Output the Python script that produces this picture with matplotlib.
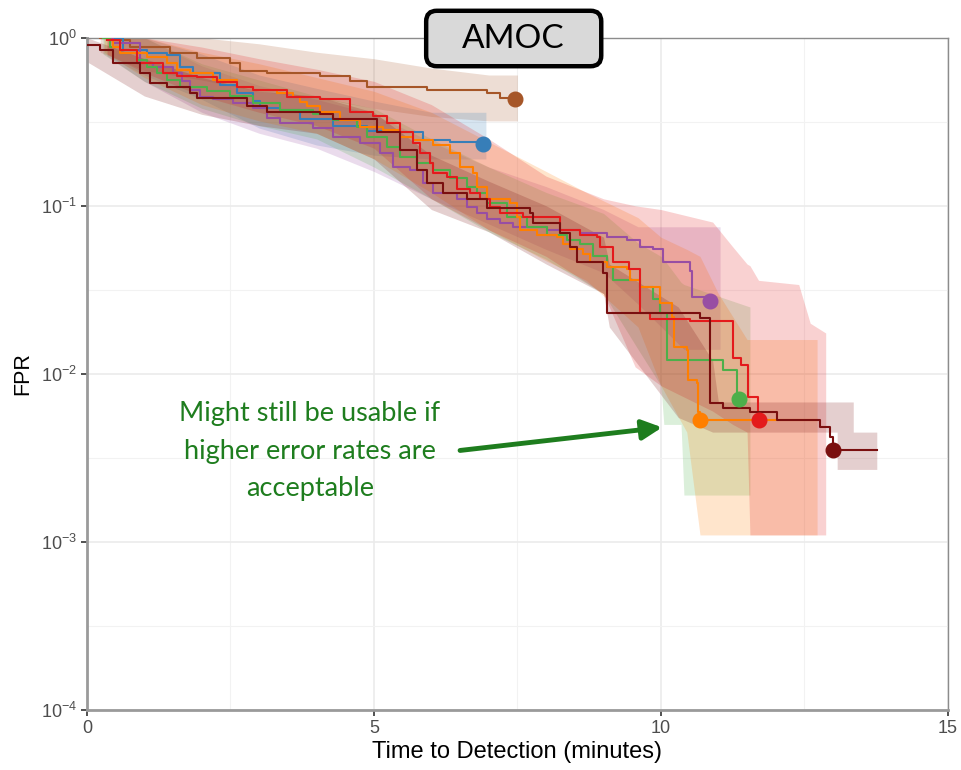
import matplotlib.pyplot as plt
import numpy as np
from matplotlib.patches import FancyBboxPatch
from matplotlib.ticker import FixedLocator, LogLocator, NullFormatter

plt.rcParams['font.family'] = ['Liberation Sans', 'DejaVu Sans']

# Detection curves (time in minutes, false positive rate), one step curve per model
maroon_t = [0.00, 0.23, 0.45, 0.92, 1.10, 1.39, 1.79, 1.92, 2.79, 3.14, 4.06, 4.29,
            5.05, 5.45, 5.75, 5.92, 6.20, 6.62, 6.97, 7.72, 7.77, 8.24, 8.41, 8.54,
            8.99, 9.06, 10.68, 10.85, 11.08, 11.55, 12.02, 12.77, 12.94, 13.00, 13.76]
maroon_f = [0.90, 0.85, 0.71, 0.62, 0.54, 0.51, 0.47, 0.44, 0.39, 0.36, 0.35, 0.33,
            0.275, 0.215, 0.164, 0.137, 0.119, 0.109, 0.097, 0.091, 0.079, 0.069, 0.057, 0.046,
            0.040, 0.0231, 0.0216, 0.0067, 0.0063, 0.0059, 0.0053, 0.0048, 0.0042, 0.0035, 0.0035]

brown_t = [0.23, 0.45, 0.75, 1.45, 1.92, 2.49, 2.67, 3.14, 4.06, 4.58, 4.88, 5.92, 6.97, 7.20, 7.46]
brown_f = [1.0, 0.97, 0.88, 0.81, 0.76, 0.71, 0.63, 0.62, 0.59, 0.55, 0.51, 0.49, 0.47, 0.44, 0.43]

blue_t = [0.45, 0.63, 1.05, 1.39, 1.62, 1.85, 2.32, 2.61, 2.89, 3.01, 3.36, 3.71,
          4.29, 4.88, 5.45, 5.85, 6.32, 6.90]
blue_f = [1.0, 0.85, 0.81, 0.79, 0.67, 0.62, 0.525, 0.47, 0.42, 0.38, 0.37, 0.33,
          0.30, 0.28, 0.275, 0.247, 0.24, 0.234]

green_t = [0.28, 0.40, 0.57, 0.87, 1.05, 1.22, 1.39, 1.62, 2.09, 2.49, 2.89, 3.36,
           3.94, 4.29, 4.70, 4.88, 5.23, 5.45, 5.75, 6.03, 6.32, 6.62, 6.79, 6.97,
           7.32, 7.67, 8.01, 8.36, 8.59, 8.82, 9.06, 9.16, 9.63, 9.86, 9.98, 10.10,
           11.08, 11.32, 11.36]
green_f = [1.0, 0.88, 0.81, 0.74, 0.67, 0.62, 0.56, 0.51, 0.48, 0.45, 0.41, 0.37,
           0.35, 0.325, 0.295, 0.257, 0.224, 0.196, 0.18, 0.164, 0.147, 0.13, 0.119, 0.104,
           0.086, 0.075, 0.067, 0.063, 0.059, 0.050, 0.043, 0.036, 0.033, 0.028, 0.023, 0.0121,
           0.0106, 0.0072, 0.0071]

purple_t = [0.35, 0.45, 0.92, 1.15, 1.50, 1.65, 1.79, 1.97, 2.20, 2.54, 2.89, 3.14,
            3.36, 3.94, 4.29, 4.76, 5.10, 5.33, 5.63, 5.85, 6.03, 6.45, 6.62, 6.79,
            6.97, 7.20, 7.42, 8.01, 8.59, 9.06, 9.41, 9.63, 9.86, 10.03, 10.51, 10.54, 10.85]
purple_f = [1.0, 0.93, 0.71, 0.67, 0.62, 0.55, 0.49, 0.445, 0.43, 0.41, 0.38, 0.335,
            0.31, 0.29, 0.257, 0.237, 0.207, 0.171, 0.164, 0.137, 0.119, 0.109, 0.099, 0.091,
            0.083, 0.079, 0.075, 0.072, 0.069, 0.065, 0.063, 0.057, 0.055, 0.046, 0.041, 0.0288, 0.027]

orange_t = [0.35, 0.45, 0.57, 1.05, 1.39, 1.57, 1.79, 2.20, 2.61, 2.89, 3.31, 3.59,
            3.71, 3.83, 4.06, 4.41, 4.76, 5.16, 5.45, 5.68, 6.03, 6.32, 6.50, 6.72,
            6.79, 6.97, 7.37, 7.49, 7.54, 7.84, 8.19, 8.29, 8.41, 8.64, 8.76, 9.06,
            9.41, 9.46, 9.63, 9.98, 10.19, 10.22, 10.45, 10.47, 10.63, 10.64, 10.68, 12.72]
orange_f = [0.97, 0.88, 0.81, 0.77, 0.71, 0.645, 0.62, 0.56, 0.51, 0.49, 0.47, 0.445,
            0.415, 0.39, 0.36, 0.325, 0.295, 0.284, 0.257, 0.247, 0.231, 0.207, 0.171, 0.157,
            0.13, 0.109, 0.104, 0.086, 0.072, 0.067, 0.065, 0.059, 0.055, 0.052, 0.046, 0.0434,
            0.0418, 0.0363, 0.033, 0.0265, 0.0218, 0.0145, 0.0139, 0.0092, 0.0088, 0.0059, 0.0053, 0.0053]

red_t = [0.35, 0.57, 0.87, 1.32, 1.57, 1.92, 2.27, 2.61, 2.89, 3.48, 4.06, 4.58,
         4.98, 5.23, 5.45, 5.68, 5.80, 5.97, 6.03, 6.27, 6.45, 6.67, 6.85, 7.02,
         7.20, 7.60, 8.24, 8.59, 8.88, 8.94, 9.16, 9.45, 9.63, 9.81, 10.50, 11.25,
         11.40, 11.52, 11.69, 11.71]
red_f = [0.97, 0.85, 0.71, 0.62, 0.59, 0.58, 0.545, 0.51, 0.49, 0.445, 0.43, 0.36,
         0.34, 0.31, 0.275, 0.237, 0.207, 0.18, 0.157, 0.149, 0.125, 0.119, 0.109, 0.099,
         0.091, 0.086, 0.072, 0.067, 0.065, 0.057, 0.046, 0.042, 0.0231, 0.0212, 0.0205, 0.0124,
         0.0113, 0.0073, 0.0059, 0.0053]

# Time at which each model's marker sits (end of its observed curve)
maroon_end = 13.00
orange_end = 10.68

# Confidence bands (time, lower FPR, upper FPR)
maroon_bt = [0.0, 1.0, 2.0, 3.0, 4.0, 5.0, 6.0, 7.0, 8.0, 9.0, 9.1, 10.3, 10.9, 11.0,
             13.07, 13.07, 13.35, 13.35, 13.76]
maroon_lo = [0.72, 0.45, 0.35, 0.30, 0.27, 0.19, 0.095, 0.070, 0.045, 0.030, 0.019, 0.0055, 0.0045, 0.0045,
             0.0045, 0.0027, 0.0027, 0.0027, 0.0027]
maroon_hi = [1.0, 0.75, 0.58, 0.48, 0.45, 0.36, 0.20, 0.14, 0.10, 0.065, 0.045, 0.025, 0.012, 0.0068,
             0.0068, 0.0068, 0.0068, 0.0045, 0.0045]

brown_bt = [0.23, 1.0, 2.0, 3.0, 4.0, 5.0, 6.0, 7.0, 7.5]
brown_lo = [0.82, 0.64, 0.56, 0.48, 0.44, 0.38, 0.34, 0.32, 0.32]
brown_hi = [1.0, 1.0, 1.0, 0.92, 0.82, 0.75, 0.66, 0.60, 0.60]

blue_bt = [0.45, 1.0, 2.0, 3.0, 4.0, 5.0, 6.0, 6.95]
blue_lo = [0.75, 0.60, 0.43, 0.29, 0.23, 0.20, 0.19, 0.19]
blue_hi = [1.0, 1.0, 0.80, 0.60, 0.50, 0.42, 0.36, 0.36]

purple_bt = [0.35, 1.0, 2.0, 3.0, 4.0, 5.0, 6.0, 7.0, 8.0, 9.0, 9.6, 10.4, 11.03]
purple_lo = [0.78, 0.55, 0.36, 0.27, 0.22, 0.16, 0.11, 0.078, 0.055, 0.040, 0.026, 0.014, 0.014]
purple_hi = [1.0, 1.0, 0.68, 0.52, 0.43, 0.35, 0.24, 0.17, 0.13, 0.095, 0.075, 0.075, 0.075]

green_bt = [0.28, 1.0, 2.0, 3.0, 4.0, 5.0, 6.0, 7.0, 8.0, 9.0, 9.6, 10.0, 10.05, 10.35, 10.4, 11.55]
green_lo = [0.80, 0.55, 0.38, 0.30, 0.25, 0.17, 0.11, 0.070, 0.048, 0.030, 0.014, 0.0085, 0.0050, 0.0050, 0.0019, 0.0019]
green_hi = [1.0, 1.0, 0.70, 0.56, 0.45, 0.38, 0.25, 0.17, 0.12, 0.09, 0.060, 0.050, 0.048, 0.035, 0.034, 0.025]

orange_bt = [0.3, 1.0, 2.0, 3.0, 4.0, 5.0, 6.0, 7.0, 8.0, 8.7, 9.6, 10.0, 10.45, 10.68, 11.0, 11.5, 12.72]
orange_lo = [0.82, 0.58, 0.40, 0.32, 0.27, 0.19, 0.12, 0.072, 0.047, 0.036, 0.019, 0.0085, 0.0045, 0.0011, 0.0011, 0.0011, 0.0011]
orange_hi = [1.0, 1.0, 0.82, 0.70, 0.58, 0.48, 0.36, 0.24, 0.16, 0.12, 0.085, 0.065, 0.055, 0.05, 0.03, 0.016, 0.016]

red_bt = [0.35, 1.0, 2.0, 3.0, 4.0, 5.0, 6.0, 7.0, 8.0, 9.0, 9.55, 10.0, 10.9, 11.25, 11.5, 11.55, 11.7, 12.4, 12.6, 12.87]
red_lo = [0.80, 0.62, 0.45, 0.36, 0.30, 0.22, 0.11, 0.072, 0.050, 0.030, 0.011, 0.0085, 0.0060, 0.0050, 0.0045, 0.0011, 0.0011, 0.0011, 0.0011, 0.0011]
red_hi = [1.0, 1.0, 0.88, 0.75, 0.65, 0.55, 0.40, 0.25, 0.15, 0.11, 0.10, 0.095, 0.080, 0.057, 0.045, 0.044, 0.036, 0.034, 0.020, 0.0175]

series = [
    ('#A65628', brown_t, brown_f, brown_bt, brown_lo, brown_hi, None),
    ('#377EB8', blue_t, blue_f, blue_bt, blue_lo, blue_hi, None),
    ('#984EA3', purple_t, purple_f, purple_bt, purple_lo, purple_hi, None),
    ('#4DAF4A', green_t, green_f, green_bt, green_lo, green_hi, None),
    ('#FF7F00', orange_t, orange_f, orange_bt, orange_lo, orange_hi, orange_end),
    ('#E41A1C', red_t, red_f, red_bt, red_lo, red_hi, None),
    ('#7A0F0F', maroon_t, maroon_f, maroon_bt, maroon_lo, maroon_hi, maroon_end),
]

fig = plt.figure(figsize=(9.62, 7.70), dpi=100)
ax = fig.add_axes([0.0904, 0.078, 0.895, 0.873])

# bands underneath everything
for color, t, f, bt, lo, hi, end in series:
    ax.fill_between(bt, lo, hi, color=color, alpha=0.2, linewidth=0, zorder=2)

for color, t, f, bt, lo, hi, end in series:
    ax.plot(t, f, drawstyle='steps-post', color=color, linewidth=1.5, zorder=3)
    if end is None:
        mx, my = t[-1], f[-1]
    else:
        idx = t.index(end)
        mx, my = t[idx], f[idx]
    ax.plot(mx, my, 'o', color=color, markersize=10.5, zorder=4)

ax.set_yscale('log')
ax.set_xlim(0, 15)
ax.set_ylim(1e-4, 1)
ax.set_xticks([0, 5, 10, 15])
ax.xaxis.set_minor_locator(FixedLocator([2.5, 7.5, 12.5]))
ax.yaxis.set_major_locator(LogLocator(base=10, numticks=10))
ax.yaxis.set_minor_locator(FixedLocator(10.0 ** np.arange(-3.5, 0, 1.0)))
ax.yaxis.set_minor_formatter(NullFormatter())

ax.grid(which='major', color='#EBEBEB', linewidth=1.2, zorder=0)
ax.grid(which='minor', color='#F2F2F2', linewidth=0.8, zorder=0)
ax.set_axisbelow(True)

for side in ['top', 'right']:
    ax.spines[side].set_color('#8C8C8C')
    ax.spines[side].set_linewidth(1.0)
for side in ['left', 'bottom']:
    ax.spines[side].set_color('#9A9A9A')
    ax.spines[side].set_linewidth(2.0)

ax.tick_params(which='major', length=4, width=1.2, color='#333333',
               labelsize=13, labelcolor='#4D4D4D', pad=3)
ax.tick_params(which='minor', length=0)

ax.set_xlabel('Time to Detection (minutes)', fontsize=17, color='black', labelpad=3)
ax.set_ylabel('FPR', fontsize=15.5, color='black', labelpad=6)

# title box sitting on the top border
box = FancyBboxPatch((0.443, 0.914), 0.182, 0.072,
                     boxstyle='round,pad=0,rounding_size=0.011', mutation_aspect=1.25,
                     transform=fig.transFigure, facecolor='#D9D9D9', edgecolor='black',
                     linewidth=3.2, zorder=10)
fig.patches.append(box)
fig.text(0.534, 0.949, 'AMOC', ha='center', va='center', fontsize=24,
         family='Lato', color='black', zorder=11)

# annotation with arrow
green = '#1E7D1E'
ax.annotate('', xy=(10.02, 0.0048), xytext=(6.5, 0.0035),
            arrowprops=dict(arrowstyle='-|>,head_length=1.2,head_width=0.6',
                            color=green, linewidth=3.5, shrinkA=0, shrinkB=0),
            zorder=6)
fig.text(0.322, 0.414, 'Might still be usable if\nhigher error rates are\nacceptable',
         ha='center', va='center', fontsize=19.5, family='Lato', color=green,
         linespacing=1.62)

plt.savefig('out.png', dpi=100)
